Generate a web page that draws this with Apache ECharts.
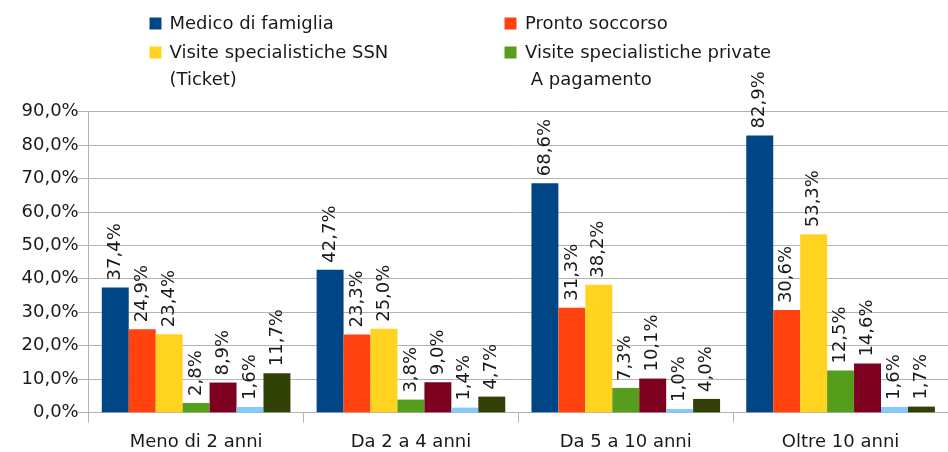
<!DOCTYPE html>
<html>
<head>
<meta charset="utf-8">
<style>
  html, body { margin: 0; padding: 0; background: #ffffff; }
  #chart { width: 948px; height: 452px; }
</style>
<script src="https://cdn.jsdelivr.net/npm/echarts@6/dist/echarts.min.js"></script>
</head>
<body>
<div id="chart"></div>
<script>
// Fasce di durata
const categories = ['Meno di 2 anni', 'Da 2 a 4 anni', 'Da 5 a 10 anni', 'Oltre 10 anni'];

// Percentuali per servizio, una voce per fascia
const medicoFamiglia   = [37.4, 42.7, 68.6, 82.9];
const prontoSoccorso   = [24.9, 23.3, 31.3, 30.6];
const visiteSSN        = [23.4, 25.0, 38.2, 53.3];
const visitePrivate    = [2.8, 3.8, 7.3, 12.5];
const serie5           = [8.9, 9.0, 10.1, 14.6];
const serie6           = [1.6, 1.4, 1.0, 1.6];
const serie7           = [11.7, 4.7, 4.0, 1.7];

const seriesNames = [
  'Medico di famiglia',
  'Pronto soccorso',
  'Visite specialistiche SSN (Ticket)',
  'Visite specialistiche private A pagamento',
  'Serie 5',
  'Serie 6',
  'Serie 7'
];
const seriesValues = [medicoFamiglia, prontoSoccorso, visiteSSN, visitePrivate, serie5, serie6, serie7];
const palette = ['#004586', '#ff420e', '#ffd320', '#579d1c', '#7e0021', '#83caff', '#314004'];

// Y axis ticks
const yMin = 0, yMax = 90, yStep = 10;

const fmtPct = v => v.toFixed(1).replace('.', ',') + '%';

const FONT = '"DejaVu Sans", sans-serif';

// Legend block: only the first four series, laid out in two columns
const legendItems = [
  { idx: 0, x: 149.5, y: 17.5, lines: ['Medico di famiglia'],                           ly: [24] },
  { idx: 1, x: 504.5, y: 17.5, lines: ['Pronto soccorso'],                              ly: [24] },
  { idx: 2, x: 149.5, y: 46.5, lines: ['Visite specialistiche SSN', '(Ticket)'],        ly: [53, 80.5] },
  { idx: 3, x: 504.5, y: 46.5, lines: ['Visite specialistiche private', ' A pagamento'], ly: [53, 80.5] }
];
const legendGraphics = [];
legendItems.forEach(it => {
  const textX = it.idx % 2 === 0 ? 169.5 : 525;
  legendGraphics.push({
    type: 'rect', left: it.x, top: it.y,
    shape: { width: 12, height: 12 },
    style: { fill: palette[it.idx] }
  });
  it.lines.forEach((ln, k) => {
    legendGraphics.push({
      type: 'text',
      x: textX, y: it.ly[k],
      style: {
        text: ln, fill: '#1a1a1a',
        font: '18px ' + FONT,
        verticalAlign: 'middle'
      }
    });
  });
});

const chart = echarts.init(document.getElementById('chart'), null, { renderer: 'canvas' });

chart.setOption({
  animation: false,
  backgroundColor: '#ffffff',
  grid: { left: 88.7, right: -13.7, top: 111.7, bottom: 39.7, containLabel: false },
  xAxis: {
    type: 'category',
    data: categories,
    axisLine: { show: true, lineStyle: { color: '#b3b3b3', width: 1 } },
    axisTick: { show: true, length: 10, lineStyle: { color: '#b3b3b3' } },
    axisLabel: {
      color: '#1a1a1a', fontFamily: FONT, fontSize: 18, margin: 21
    },
    splitLine: { show: false }
  },
  yAxis: {
    type: 'value',
    min: yMin, max: yMax, interval: yStep,
    axisLine: { show: true, lineStyle: { color: '#b3b3b3', width: 1 } },
    axisTick: { show: true, length: 11, lineStyle: { color: '#b3b3b3' } },
    axisLabel: {
      color: '#1a1a1a', fontFamily: FONT, fontSize: 18, margin: 10,
      formatter: v => fmtPct(v)
    },
    splitLine: { show: true, lineStyle: { color: '#b3b3b3', width: 1 } }
  },
  graphic: legendGraphics,
  series: seriesNames.map((name, i) => ({
    name,
    type: 'bar',
    data: seriesValues[i],
    barGap: '0%',
    barCategoryGap: '12.2%',
    itemStyle: { color: palette[i] },
    label: {
      show: true,
      position: 'top',
      distance: 7,
      rotate: 90,
      align: 'left',
      verticalAlign: 'middle',
      color: '#1a1a1a',
      fontFamily: FONT,
      fontSize: 18,
      formatter: p => fmtPct(p.value)
    }
  }))
});
</script>
</body>
</html>
